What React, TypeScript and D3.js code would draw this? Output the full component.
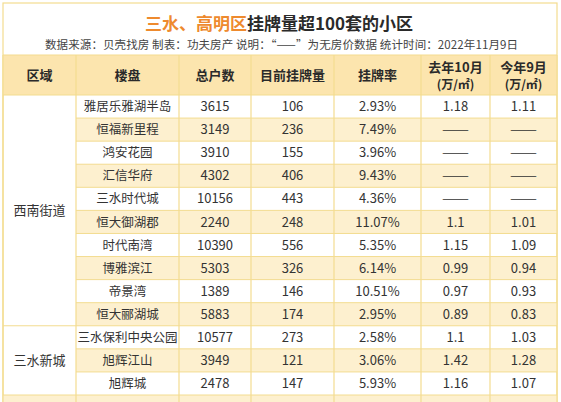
import { useEffect, useRef } from 'react';
import * as d3 from 'd3';

const regions = ['西南街道', '三水新城'];
const regionSizes = [10, 3];
const estates = [
  '雅居乐雅湖半岛', '恒福新里程', '鸿安花园', '汇信华府', '三水时代城', '恒大御湖郡',
  '时代南湾', '博雅滨江', '帝景湾', '恒大郦湖城', '三水保利中央公园', '旭辉江山', '旭辉城',
];
const households = [3615, 3149, 3910, 4302, 10156, 2240, 10390, 5303, 1389, 5883, 10577, 3949, 2478];
const listings = [106, 236, 155, 406, 443, 248, 556, 326, 146, 174, 273, 121, 147];
const rates = ['2.93%', '7.49%', '3.96%', '9.43%', '4.36%', '11.07%', '5.35%', '6.14%', '10.51%', '2.95%', '2.58%', '3.06%', '5.93%'];
const priceLastOct = ['1.18', '——', '——', '——', '——', '1.1', '1.15', '0.99', '0.97', '0.89', '1.1', '1.42', '1.16'];
const priceThisSep = ['1.11', '——', '——', '——', '——', '1.01', '1.09', '0.94', '0.93', '0.83', '1.03', '1.28', '1.07'];
const headers = [['区域'], ['楼盘'], ['总户数'], ['目前挂牌量'], ['挂牌率'], ['去年10月', '(万/㎡)'], ['今年9月', '(万/㎡)']];

export default function App() {
  const svgRef = useRef<SVGSVGElement>(null);
  const width = 561;
  const height = 402;

  useEffect(() => {
    const svg = d3.select(svgRef.current);
    svg.selectAll('*').remove();

    const font = '"Noto Sans CJK SC", "Noto Sans", sans-serif';
    const gridColor = '#F3DC90';
    const headBg = '#FCE5AE';
    const stripeBg = '#FDF0CF';
    const textColor = '#333';

    const colEdges = [3, 76, 179, 251, 334, 421, 490, 557];
    const headTop = 55;
    const headBottom = 95;
    const nRows = estates.length;

    // row index -> y
    const y = d3.scaleLinear().domain([0, nRows]).range([headBottom, 395]);
    const rowH = y(1) - y(0);
    const colMid = (i: number) => (colEdges[i] + colEdges[i + 1]) / 2;

    svg.append('rect')
      .attr('x', 0).attr('y', 0).attr('width', width).attr('height', height)
      .attr('fill', '#fff');

    // outer border
    svg.append('rect')
      .attr('x', 3).attr('y', 3).attr('width', colEdges[7] - 3).attr('height', height + 10)
      .attr('fill', 'none').attr('stroke', gridColor).attr('stroke-width', 1.2);

    // title
    const title = svg.append('text')
      .attr('x', 279).attr('y', 30)
      .attr('text-anchor', 'middle')
      .style('font-family', font).style('font-size', '17px').style('font-weight', 'bold');
    title.append('tspan').attr('fill', '#EE8A2E').text('三水、高明区');
    title.append('tspan').attr('fill', '#2a2a2a').text('挂牌量超100套的小区');

    const sub = svg.append('text')
      .attr('x', 45).attr('y', 49)
      .style('font-family', font).style('font-size', '11.5px')
      .attr('fill', '#444')
      .attr('textLength', 473).attr('lengthAdjust', 'spacing');
    sub.text('数据来源：贝壳找房 制表：功夫房产 说明：“——”为无房价数据 统计时间：2022年11月9日');

    // header
    svg.append('rect')
      .attr('x', colEdges[0]).attr('y', headTop)
      .attr('width', colEdges[7] - colEdges[0]).attr('height', headBottom - headTop)
      .attr('fill', headBg);

    headers.forEach((lines, i) => {
      const t = svg.append('text')
        .attr('text-anchor', 'middle')
        .style('font-family', font).style('font-size', '13px').style('font-weight', 'bold')
        .attr('fill', '#2a2a2a');
      if (lines.length === 1) {
        t.append('tspan').attr('x', colMid(i)).attr('y', (headTop + headBottom) / 2 + 5).text(lines[0]);
      } else {
        t.append('tspan').attr('x', colMid(i)).attr('y', 72).text(lines[0]);
        t.append('tspan').attr('x', colMid(i)).attr('y', 89).style('font-size', '12px').text(lines[1]);
      }
    });

    // row stripes (data columns)
    const allRows = d3.range(nRows + 1);
    svg.selectAll('.stripe')
      .data(allRows.filter(i => i % 2 === 1))
      .enter().append('rect')
      .attr('x', d => (d === nRows ? colEdges[0] : colEdges[1]))
      .attr('y', d => y(d))
      .attr('width', d => colEdges[7] - (d === nRows ? colEdges[0] : colEdges[1]))
      .attr('height', rowH)
      .attr('fill', stripeBg);

    // horizontal grid lines
    const groupStarts = regionSizes.reduce<number[]>((acc, n) => {
      acc.push(acc[acc.length - 1] + n);
      return acc;
    }, [0]);
    svg.selectAll('.hline')
      .data(allRows)
      .enter().append('line')
      .attr('x1', d => (groupStarts.includes(d) ? colEdges[0] : colEdges[1]))
      .attr('x2', colEdges[7])
      .attr('y1', d => y(d)).attr('y2', d => y(d))
      .attr('stroke', gridColor).attr('stroke-width', 1);

    svg.append('line')
      .attr('x1', colEdges[0]).attr('x2', colEdges[7])
      .attr('y1', headTop).attr('y2', headTop)
      .attr('stroke', gridColor).attr('stroke-width', 1.2);

    // vertical grid lines
    svg.selectAll('.vline')
      .data(colEdges)
      .enter().append('line')
      .attr('x1', d => d).attr('x2', d => d)
      .attr('y1', headTop).attr('y2', height)
      .attr('stroke', gridColor).attr('stroke-width', 1.2);

    // region cells
    regions.forEach((r, i) => {
      const start = groupStarts[i];
      const end = groupStarts[i + 1];
      svg.append('text')
        .attr('x', colMid(0)).attr('y', (y(start) + y(end)) / 2 + 5)
        .attr('text-anchor', 'middle')
        .style('font-family', font).style('font-size', '13px')
        .attr('fill', textColor)
        .text(r);
    });

    // data cells
    const columns: (string | number)[][] = [estates, households, listings, rates, priceLastOct, priceThisSep];
    columns.forEach((col, ci) => {
      const cells = svg.selectAll(`.cell-${ci}`)
        .data(col)
        .enter().append('text')
        .attr('x', colMid(ci + 1))
        .attr('y', (_, i) => y(i) + rowH / 2 + 4.6)
        .attr('text-anchor', 'middle')
        .style('font-family', font)
        .style('font-size', ci === 0 ? '12.5px' : '13px')
        .attr('fill', textColor)
        .text(d => String(d));
      cells.filter(d => d === '——')
        .attr('textLength', 27)
        .attr('lengthAdjust', 'spacingAndGlyphs')
        .attr('x', colMid(ci + 1) - 13.5)
        .attr('text-anchor', 'start');
    });
  }, []);

  return (
    <svg
      ref={svgRef}
      width={width}
      height={height}
      style={{ position: 'absolute', left: 0, top: 0, display: 'block' }}
    />
  );
}
